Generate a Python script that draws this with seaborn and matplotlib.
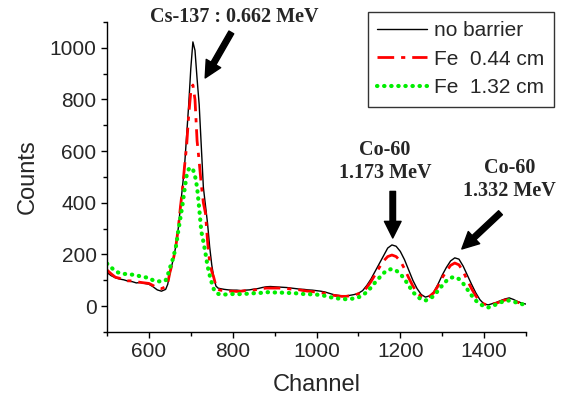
import numpy as np
import pandas as pd
import matplotlib
matplotlib.use("Agg")
import matplotlib.pyplot as plt
import seaborn as sns
from matplotlib.ticker import MultipleLocator

# ---- data ----
channel = (list(range(500, 641, 10)) + list(range(645, 766, 5)) + list(range(770, 1501, 10)))

no_barrier = [
    130, 118, 110, 105, 102, 97, 95, 90, 92, 88, 85, 75, 63, 58, 65,
    85, 130, 160, 195, 240, 300, 380, 460, 540, 660, 780, 920, 1023, 990, 880,
    780, 620, 460, 390, 320, 230, 160, 110, 78, 70,
    68, 65, 63, 62, 62, 60, 62, 63, 66, 68, 72, 75, 76, 75, 74, 73, 72, 70, 68,
    66, 65, 63, 62, 60, 58, 55, 50, 45, 42, 40, 40, 42, 45, 50,
    60, 80, 105, 135, 165, 195, 225, 237, 232, 212, 180, 140, 100, 68, 45, 35,
    40, 55, 85, 120, 150, 175, 187, 182, 155, 120, 85, 52, 25, 8, 5, 10, 15,
    22, 28, 32, 26, 18, 12, 8]

fe_044 = [
    140, 125, 112, 108, 100, 98, 98, 95, 92, 90, 88, 80, 70, 68, 75,
    90, 130, 160, 195, 240, 300, 380, 450, 540, 620, 740, 830, 856, 800, 640,
    560, 470, 400, 360, 250, 170, 135, 110, 78, 65,
    62, 60, 58, 58, 57, 58, 60, 60, 62, 65, 68, 70, 70, 70, 70, 69, 68, 66, 65,
    63, 60, 58, 56, 55, 52, 50, 46, 42, 40, 38, 38, 40, 43, 48,
    55, 72, 95, 122, 150, 175, 192, 198, 192, 175, 145, 110, 78, 52, 38, 32,
    38, 52, 78, 110, 135, 158, 167, 160, 135, 100, 68, 40, 20, 8, 5, 8, 12,
    18, 24, 26, 22, 15, 10, 6]

fe_132 = [
    165, 150, 135, 128, 125, 124, 122, 120, 115, 112, 110, 100, 97, 95, 100,
    120, 148, 170, 200, 235, 290, 340, 390, 450, 505, 530, 537, 530, 505, 460,
    380, 290, 250, 205, 155, 120, 90, 65, 52, 48,
    45, 45, 46, 47, 46, 47, 48, 48, 50, 50, 52, 54, 54, 53, 53, 52, 52, 50, 50,
    48, 47, 46, 46, 45, 42, 40, 36, 32, 30, 28, 27, 28, 30, 34,
    42, 55, 72, 92, 110, 128, 140, 144, 138, 125, 105, 80, 55, 38, 26, 22,
    28, 40, 60, 80, 98, 110, 113, 105, 88, 65, 42, 22, 8, 0, -5, 0, 8,
    15, 20, 22, 18, 12, 8, 5]

labels = ["no barrier", "Fe  0.44 cm", "Fe  1.32 cm"]

df = pd.DataFrame({"channel": channel, labels[0]: no_barrier,
                   labels[1]: fe_044, labels[2]: fe_132})

sns.set_style("ticks")
plt.rcParams["font.family"] = ["Liberation Sans", "DejaVu Sans"]

fig = plt.figure(figsize=(5.66, 4.01), dpi=100)
ax = fig.add_axes([107 / 566, 1 - 332 / 401, (526 - 107) / 566, (332 - 22) / 401])

sns.lineplot(data=df, x="channel", y=labels[0], ax=ax, color="black", lw=1.0,
             label=labels[0])
sns.lineplot(data=df, x="channel", y=labels[1], ax=ax, color="#ff0000", lw=2.0,
             dashes=False, linestyle=(0, (6, 2.5, 1.5, 2.5)), label=labels[1])
sns.lineplot(data=df, x="channel", y=labels[2], ax=ax, color="#00ee00", lw=3.0,
             linestyle=(0, (0.1, 1.6)), dash_capstyle="round", label=labels[2])

ax.set_xlim(500, 1500)
ax.set_ylim(-100, 1100)
ax.set_xticks([600, 800, 1000, 1200, 1400])
ax.set_xticks([500, 700, 900, 1100, 1300, 1500], minor=True)
ax.set_yticks([0, 200, 400, 600, 800, 1000])
ax.set_yticks([-100, 100, 300, 500, 700, 900, 1100], minor=True)
ax.tick_params(which="major", direction="out", length=4, width=1, labelsize=15, color="black")
ax.tick_params(which="minor", direction="out", length=3, width=1, color="black")
for s in ["left", "bottom"]:
    ax.spines[s].set_color("black")
    ax.spines[s].set_linewidth(1)
sns.despine(ax=ax)
ax.set_xlabel("Channel", fontsize=17, labelpad=9)
ax.set_ylabel("Counts", fontsize=17, labelpad=8)

leg = ax.legend(loc="upper right", bbox_to_anchor=(554 / 566, 1 - 12 / 401),
                bbox_transform=fig.transFigure, borderaxespad=0, fontsize=15,
                handlelength=2.4, handletextpad=0.35, labelspacing=0.45,
                borderpad=0.45, fancybox=False, frameon=True)
leg.get_frame().set_edgecolor("black")
leg.get_frame().set_linewidth(1)

afont = dict(family=["Liberation Serif", "DejaVu Serif"], fontweight="bold", fontsize=14.5)
arrow = dict(arrowstyle="simple,head_length=1.2,head_width=1.2,tail_width=0.4",
             color="black")
ax.annotate("Cs-137 : 0.662 MeV", xy=(731, 874), xytext=(804, 1119),
            ha="center", va="center", annotation_clip=False, **afont)
ax.annotate("", xy=(731, 874), xytext=(800, 1069), arrowprops=arrow, annotation_clip=False)
ax.annotate("Co-60\n1.173 MeV", xy=(1182, 253), xytext=(1163, 560),
            ha="center", va="center", linespacing=1.25, **afont)
ax.annotate("", xy=(1182, 253), xytext=(1182, 455), arrowprops=arrow)
ax.annotate("Co-60\n1.332 MeV", xy=(1342, 214), xytext=(1461, 490),
            ha="center", va="center", linespacing=1.25, annotation_clip=False, **afont)
ax.annotate("", xy=(1342, 214), xytext=(1444, 369), arrowprops=arrow, annotation_clip=False)

fig.savefig("out.png", dpi=100)
